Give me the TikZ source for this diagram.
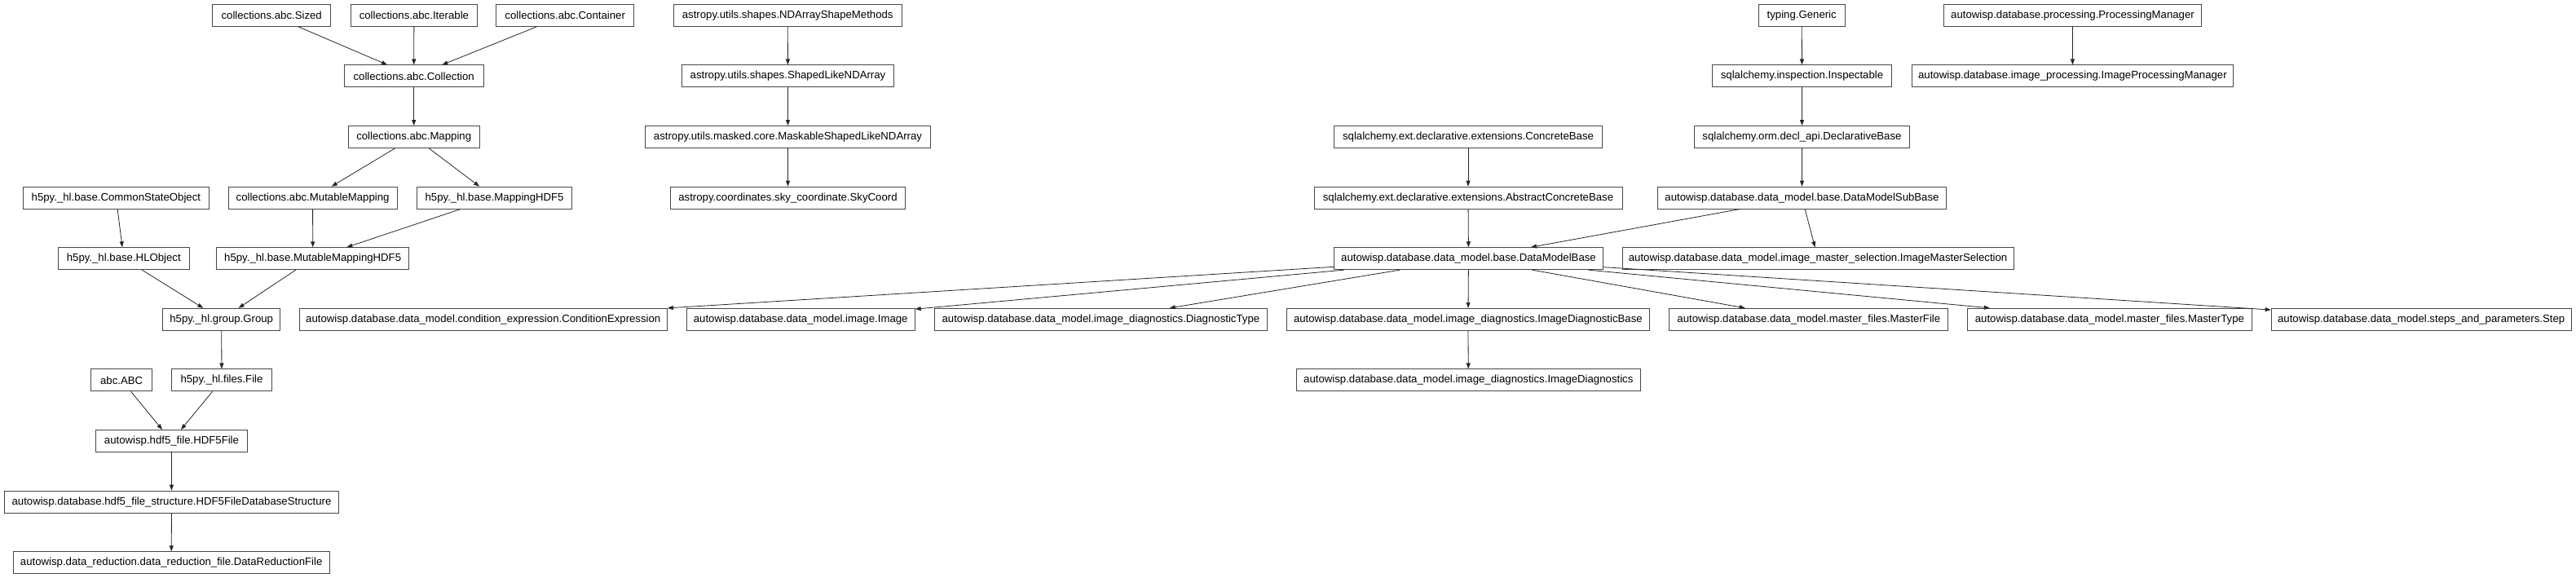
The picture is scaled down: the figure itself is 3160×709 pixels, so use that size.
\documentclass[tikz,border=0pt]{standalone}
\usepackage{fontspec}
\setmainfont{Liberation Sans}
\usetikzlibrary{arrows.meta}
\begin{document}
\begin{tikzpicture}[x=1pt,y=-1pt,
  cls/.style={draw=black!72, line width=0.9pt, fill=white, minimum height=27pt, inner xsep=0pt, inner ysep=0pt, font=\fontsize{13.2}{15}\selectfont, text=black},
  edge/.style={draw=black!85, line width=0.8pt, -{Triangle[length=7pt,width=5pt]}}]
\useasboundingbox (0,0) rectangle (3160,709);
% rows
\def\rA{18.8}\def\rB{93.4}\def\rC{168}\def\rD{242.6}\def\rE{317.2}
\def\rF{391.8}\def\rG{466.4}\def\rH{541}\def\rI{615.6}\def\rJ{690.2}
% collections / h5py
\node[cls, minimum width=145pt] (sized) at (333.2,\rA) {collections.abc.Sized};
\node[cls, minimum width=155.7pt] (iterable) at (507.9,\rA) {collections.abc.Iterable};
\node[cls, minimum width=169pt] (container) at (693.2,\rA) {collections.abc.Container};
\node[cls, minimum width=170.5pt] (collection) at (507.7,\rB) {collections.abc.Collection};
\node[cls, minimum width=161.3pt] (mapping) at (507.7,\rC) {collections.abc.Mapping};
\node[cls, minimum width=227.5pt] (commonstate) at (142.4,\rD) {h5py.\_hl.base.CommonStateObject};
\node[cls, minimum width=207.2pt] (mutmapping) at (383.6,\rD) {collections.abc.MutableMapping};
\node[cls, minimum width=189.8pt] (mappinghdf) at (606.6,\rD) {h5py.\_hl.base.MappingHDF5};
\node[cls, minimum width=160.7pt] (hlobject) at (151.8,\rE) {h5py.\_hl.base.HLObject};
\node[cls, minimum width=235.7pt] (mutmappinghdf) at (383.7,\rE) {h5py.\_hl.base.MutableMappingHDF5};
\node[cls, minimum width=144.4pt] (group) at (271.7,\rF) {h5py.\_hl.group.Group};
\node[cls, minimum width=75pt] (abc) at (149.2,\rG) {abc.ABC};
\node[cls, minimum width=122.5pt] (file) at (272,\rG) {h5py.\_hl.files.File};
\node[cls, minimum width=186.3pt] (hdffile) at (210.5,\rH) {autowisp.hdf5\_file.HDF5File};
\node[cls, minimum width=409.7pt] (hdfdb) at (210.5,\rI) {autowisp.database.hdf5\_file\_structure.HDF5FileDatabaseStructure};
\node[cls, minimum width=387.8pt] (drfile) at (210.2,\rJ) {autowisp.data\_reduction.data\_reduction\_file.DataReductionFile};
% astropy
\node[cls, minimum width=279.6pt] (ndshape) at (966.2,\rA) {astropy.utils.shapes.NDArrayShapeMethods};
\node[cls, minimum width=259.7pt] (shapedlike) at (966.5,\rB) {astropy.utils.shapes.ShapedLikeNDArray};
\node[cls, minimum width=349.5pt] (maskable) at (966.5,\rC) {astropy.utils.masked.core.MaskableShapedLikeNDArray};
\node[cls, minimum width=288.3pt] (skycoord) at (966.5,\rD) {astropy.coordinates.sky\_coordinate.SkyCoord};
% sqlalchemy / autowisp
\node[cls, minimum width=105.6pt] (generic) at (2210.2,\rA) {typing.Generic};
\node[cls, minimum width=220.4pt] (inspectable) at (2210.5,\rB) {sqlalchemy.inspection.Inspectable};
\node[cls, minimum width=329.1pt] (concrete) at (1801,\rC) {sqlalchemy.ext.declarative.extensions.ConcreteBase};
\node[cls, minimum width=264.3pt] (declbase) at (2210.5,\rC) {sqlalchemy.orm.decl\_api.DeclarativeBase};
\node[cls, minimum width=378pt] (absconcrete) at (1801,\rD) {sqlalchemy.ext.declarative.extensions.AbstractConcreteBase};
\node[cls, minimum width=354pt] (subbase) at (2210.5,\rD) {autowisp.database.data\_model.base.DataModelSubBase};
\node[cls, minimum width=330pt] (dmbase) at (1801.5,\rE) {autowisp.database.data\_model.base.DataModelBase};
\node[cls, minimum width=480.2pt] (imgmaster) at (2230.1,\rE) {autowisp.database.data\_model.image\_master\_selection.ImageMasterSelection};
\node[cls, minimum width=316pt] (procmgr) at (2542.5,\rA) {autowisp.database.processing.ProcessingManager};
\node[cls, minimum width=394.4pt] (imgprocmgr) at (2542.4,\rB) {autowisp.database.image\_processing.ImageProcessingManager};
\node[cls, minimum width=451pt] (condexpr) at (592.8,\rF) {autowisp.database.data\_model.condition\_expression.ConditionExpression};
\node[cls, minimum width=280pt] (image) at (982.2,\rF) {autowisp.database.data\_model.image.Image};
\node[cls, minimum width=408.2pt] (diagtype) at (1350.4,\rF) {autowisp.database.data\_model.image\_diagnostics.DiagnosticType};
\node[cls, minimum width=445pt] (imgdiagbase) at (1800.9,\rF) {autowisp.database.data\_model.image\_diagnostics.ImageDiagnosticBase};
\node[cls, minimum width=342pt] (masterfile) at (2218.8,\rF) {autowisp.database.data\_model.master\_files.MasterFile};
\node[cls, minimum width=348.3pt] (mastertype) at (2587.9,\rF) {autowisp.database.data\_model.master\_files.MasterType};
\node[cls, minimum width=368.2pt] (step) at (2970.2,\rF) {autowisp.database.data\_model.steps\_and\_parameters.Step};
\node[cls, minimum width=422.6pt] (imgdiag) at (1801.3,\rG) {autowisp.database.data\_model.image\_diagnostics.ImageDiagnostics};
% edges
\draw[edge] (sized) -- (collection);
\draw[edge] (iterable) -- (collection);
\draw[edge] (container) -- (collection);
\draw[edge] (collection) -- (mapping);
\draw[edge] (mapping) -- (mutmapping);
\draw[edge] (mapping) -- (mappinghdf);
\draw[edge] (commonstate) -- (hlobject);
\draw[edge] (mutmapping) -- (mutmappinghdf);
\draw[edge] (mappinghdf) -- (mutmappinghdf);
\draw[edge] (hlobject) -- (group);
\draw[edge] (mutmappinghdf) -- (group);
\draw[edge] (group) -- (file);
\draw[edge] (abc) -- (hdffile);
\draw[edge] (file) -- (hdffile);
\draw[edge] (hdffile) -- (hdfdb);
\draw[edge] (hdfdb) -- (drfile);
\draw[edge] (ndshape) -- (shapedlike);
\draw[edge] (shapedlike) -- (maskable);
\draw[edge] (maskable) -- (skycoord);
\draw[edge] (generic) -- (inspectable);
\draw[edge] (inspectable) -- (declbase);
\draw[edge] (declbase) -- (subbase);
\draw[edge] (concrete) -- (absconcrete);
\draw[edge] (absconcrete) -- (dmbase);
\draw[edge] (subbase) -- (dmbase);
\draw[edge] (subbase) -- (imgmaster);
\draw[edge] (procmgr) -- (imgprocmgr);
\draw[edge] (dmbase) -- (condexpr);
\draw[edge] (dmbase) -- (image);
\draw[edge] (dmbase) -- (diagtype);
\draw[edge] (dmbase) -- (imgdiagbase);
\draw[edge] (dmbase) -- (masterfile);
\draw[edge] (dmbase) -- (mastertype);
\draw[edge] (dmbase) -- (step);
\draw[edge] (imgdiagbase) -- (imgdiag);
\end{tikzpicture}
\end{document}
